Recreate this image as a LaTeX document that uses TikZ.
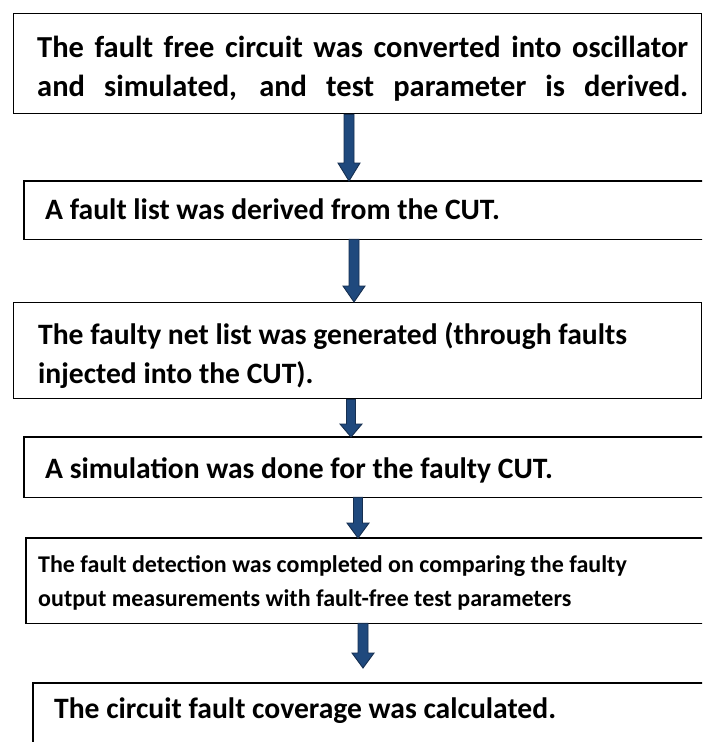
\documentclass[tikz,border=0pt]{standalone}
\usepackage{fontspec}
\setmainfont{Carlito}
\usetikzlibrary{calc}
\definecolor{arrowfill}{HTML}{1F497D}
\definecolor{arrowline}{HTML}{162F50}
\tikzset{
  box/.style={draw=black, line width=1.4pt, inner sep=0pt, anchor=north west},
  openbox/.style={inner sep=0pt, anchor=north west},
  boxline/.style={draw=black, line width=1.4pt, line join=miter},
  toptext/.style={inner sep=0pt, anchor=base west, font=\bfseries\fontsize{30.5}{38}\selectfont},
  bigtext/.style={inner sep=0pt, anchor=base west, font=\bfseries\fontsize{29.6}{38}\selectfont},
  smalltext/.style={inner sep=0pt, anchor=base west, font=\bfseries\fontsize{24}{30}\selectfont},
  barrow/.style={fill=arrowfill, draw=arrowline, line width=0.9pt, line join=miter},
}
% block arrow: #1 start, #2 tip, #3 half shaft, #4 half head, #5 head length
\newcommand\blockarrow[5]{%
  \filldraw[barrow] ($(#1)+(-#3,0)$) -- ($(#1)+(#3,0)$) -- ($(#2)+(#3,-#5)$) -- ($(#2)+(#4,-#5)$)
    -- (#2) -- ($(#2)+(-#4,-#5)$) -- ($(#2)+(-#3,-#5)$) -- cycle;}
% box whose right side runs off the page
\newcommand\openframe[1]{%
  \draw[boxline] (#1.north east) -- (#1.north west) -- (#1.south west) -- (#1.south east);}
\begin{document}
\begin{tikzpicture}[x=1pt,y=-1pt]
\useasboundingbox (0,0) rectangle (702,742);
\fill[white] (0,0) rectangle (702,742);
\clip (0,0) rectangle (702,742);

% boxes
\node[box, minimum width=688, minimum height=100] (b1) at (13,13) {};
\node[openbox, minimum width=720, minimum height=58] (b2) at (24,181) {};
\node[box, minimum width=688, minimum height=96] (b3) at (13,302) {};
\node[openbox, minimum width=720, minimum height=60] (b4) at (24,437) {};
\node[openbox, minimum width=720, minimum height=85] (b5) at (26,538) {};
\node[openbox, minimum width=720, minimum height=100] (b6) at (33,683) {};
\openframe{b2}
\openframe{b4}
\openframe{b5}
\draw[boxline] (b6.north east) -- (b6.north west) -- (b6.south west);

% texts
\node[toptext] (t1a) at (37,57) {\makebox[651pt][s]{The fault free circuit was converted into oscillator}};
\node[toptext] (t1b) at (37,96) {\makebox[651pt][s]{and simulated, and test parameter is derived.}};
\node[bigtext] (t2) at (45,219) {A fault list was derived from the CUT.};
\node[bigtext] (t3a) at (38,344) {The faulty net list was generated (through faults};
\node[bigtext] (t3b) at (38,383) {injected into the CUT).};
\node[bigtext] (t4) at (45,478) {A simulation was done for the faulty CUT.};
\node[smalltext] (t5a) at (38,572) {The fault detection was completed on comparing the faulty};
\node[smalltext] (t5b) at (38,606) {output measurements with fault-free test parameters};
\node[bigtext] (t6) at (54,718) {The circuit fault coverage was calculated.};

% arrow x positions
\coordinate (x1) at (349,0);
\coordinate (x2) at (354,0);
\coordinate (x3) at (351,0);
\coordinate (x4) at (358,0);
\coordinate (x5) at (363,0);
\coordinate (s1) at (b1.south -| x1);
\coordinate (e1) at (b2.north -| x1);
\coordinate (s2) at (b2.south -| x2);
\coordinate (e2) at (b3.north -| x2);
\coordinate (s3) at (b3.south -| x3);
\coordinate (e3) at (b4.north -| x3);
\coordinate (s4) at (b4.south -| x4);
\coordinate (e4) at (b5.north -| x4);
\coordinate (s5) at (b5.south -| x5);
\coordinate (e5) at ($(b6.north -| x5)+(0,-15)$);
\blockarrow{s1}{e1}{5}{11}{18}
\blockarrow{s2}{e2}{5}{11}{16}
\blockarrow{s3}{e3}{4.5}{11}{13}
\blockarrow{s4}{e4}{4.5}{11}{15}
\blockarrow{s5}{e5}{5}{11}{15}
\end{tikzpicture}
\end{document}
